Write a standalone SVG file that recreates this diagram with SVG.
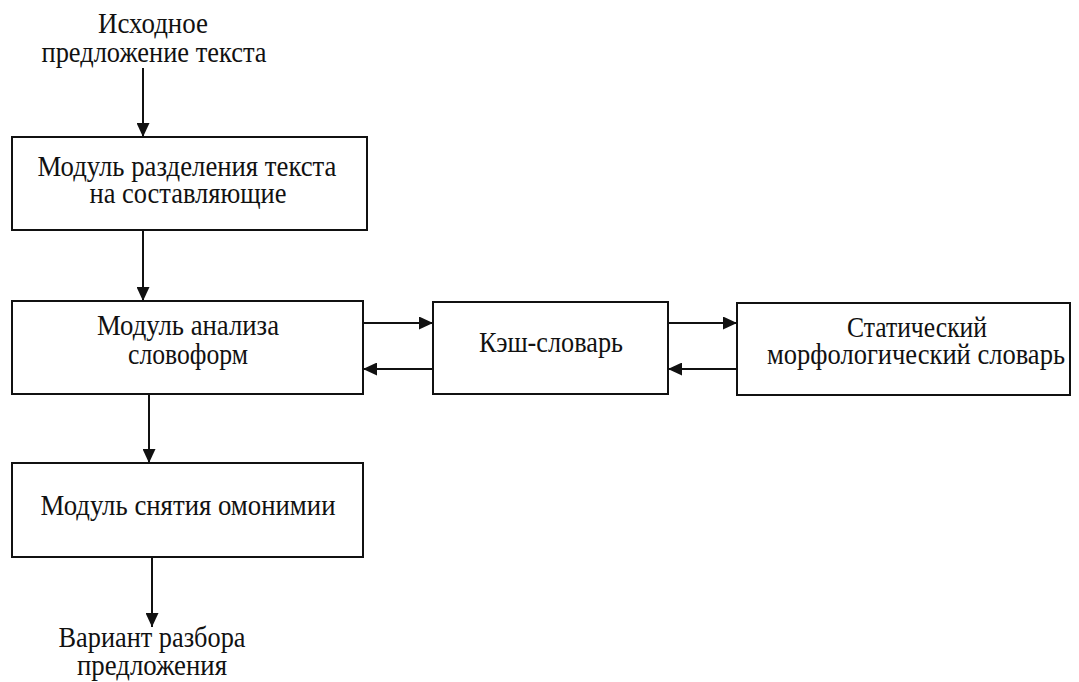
<svg xmlns="http://www.w3.org/2000/svg" width="1079" height="682" viewBox="0 0 1079 682">
<defs>
<style>
.box{fill:#fff;stroke:#111;stroke-width:2}
.t{font-family:"Liberation Serif","Times New Roman",serif;font-size:29px;fill:#111;text-anchor:middle}
.c{stroke:#111;stroke-width:2;fill:none;marker-end:url(#ah)}
</style>
<marker id="ah" viewBox="0 0 14 13" refX="14" refY="6.5" markerWidth="14" markerHeight="13" markerUnits="userSpaceOnUse" orient="auto">
<path d="M0,0 L14,6.5 L0,13 Z" fill="#111"/>
</marker>
</defs>
<rect width="1079" height="682" fill="#fff"/>
<g id="input">
<text class="t" x="153" y="33" textLength="110" lengthAdjust="spacingAndGlyphs">Исходное</text>
<text class="t" x="154" y="62" textLength="225" lengthAdjust="spacingAndGlyphs">предложение текста</text>
</g>
<g id="splitter">
<rect class="box" x="12" y="137" width="355" height="93"/>
<text class="t" x="187" y="176" textLength="299" lengthAdjust="spacingAndGlyphs">Модуль разделения текста</text>
<text class="t" x="188" y="203" textLength="197" lengthAdjust="spacingAndGlyphs">на составляющие</text>
</g>
<g id="analyzer">
<rect class="box" x="12" y="301" width="351" height="93"/>
<text class="t" x="188" y="335" textLength="182" lengthAdjust="spacingAndGlyphs">Модуль анализа</text>
<text class="t" x="188" y="364" textLength="120" lengthAdjust="spacingAndGlyphs">словоформ</text>
</g>
<g id="cache">
<rect class="box" x="433" y="302" width="235" height="92"/>
<text class="t" x="551" y="352" textLength="144" lengthAdjust="spacingAndGlyphs">Кэш-словарь</text>
</g>
<g id="static-dict">
<rect class="box" x="737" y="303" width="333" height="92"/>
<text class="t" x="917" y="337" textLength="140" lengthAdjust="spacingAndGlyphs">Статический</text>
<text class="t" x="916" y="364" textLength="298" lengthAdjust="spacingAndGlyphs">морфологический словарь</text>
</g>
<g id="homonymy">
<rect class="box" x="12" y="463" width="351" height="94"/>
<text class="t" x="188" y="515" textLength="295" lengthAdjust="spacingAndGlyphs">Модуль снятия омонимии</text>
</g>
<g id="output">
<text class="t" x="152" y="647" textLength="187" lengthAdjust="spacingAndGlyphs">Вариант разбора</text>
<text class="t" x="152" y="675" textLength="150" lengthAdjust="spacingAndGlyphs">предложения</text>
</g>
<g id="connectors">
<line class="c" x1="143" y1="68" x2="143" y2="137"/>
<line class="c" x1="143" y1="230" x2="143" y2="301"/>
<line class="c" x1="363" y1="323" x2="433" y2="323"/>
<line class="c" x1="433" y1="369" x2="363" y2="369"/>
<line class="c" x1="668" y1="323" x2="737" y2="323"/>
<line class="c" x1="737" y1="369" x2="668" y2="369"/>
<line class="c" x1="149" y1="394" x2="149" y2="463"/>
<line class="c" x1="152" y1="557" x2="152" y2="627"/>
</g>
</svg>
